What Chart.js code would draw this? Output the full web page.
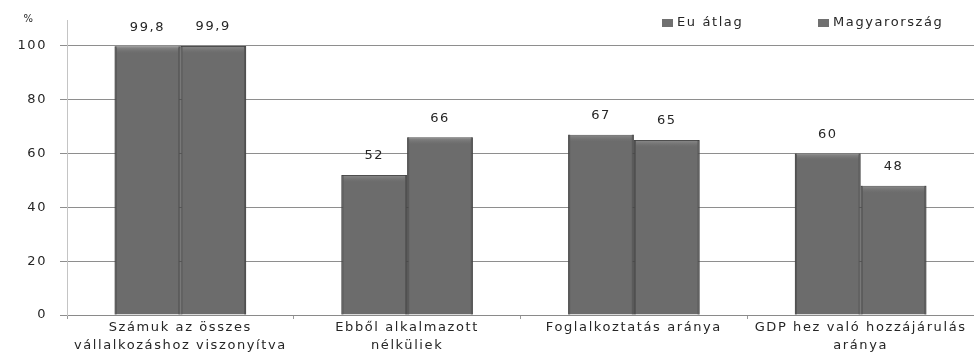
<!DOCTYPE html>
<html>
<head>
<meta charset="utf-8">
<script src="https://cdn.jsdelivr.net/npm/chart.js@4/dist/chart.umd.min.js"></script>
<style>
  html, body { margin: 0; padding: 0; background: #ffffff; }
  #wrap { width: 974px; height: 361px; position: relative; }
</style>
</head>
<body>
<div id="wrap"><canvas id="c"></canvas></div>
<script>
// Kategóriák (többsoros címkék)
const categories = [
  ['Számuk az összes', 'vállalkozáshoz viszonyítva'],
  ['Ebből alkalmazott', 'nélküliek'],
  ['Foglalkoztatás aránya'],
  ['GDP hez való hozzájárulás', 'aránya']
];
const seriesNames = ['Eu átlag', 'Magyarország'];
const euValues = [99.8, 52, 67, 60];
const huValues = [99.9, 66, 65, 48];
const yTicks = [0, 20, 40, 60, 80, 100];
const unitLabel = '%';

const FONT = 'DejaVu Sans';
const TEXT = '#262626';
const SPACING = '1.6px';

function setSpacing(chart) { chart.ctx.letterSpacing = SPACING; }

// letter spacing for the wide, airy label look
const spacingPlugin = {
  id: 'spacing',
  beforeUpdate: setSpacing,
  beforeLayout: setSpacing,
  beforeDraw: setSpacing,
  beforeDatasetsDraw: setSpacing
};

// lighter bevel strip along the top of each bar
const bevelPlugin = {
  id: 'bevel',
  afterDatasetsDraw(chart) {
    const ctx = chart.ctx;
    ctx.save();
    chart.data.datasets.forEach((ds, i) => {
      chart.getDatasetMeta(i).data.forEach(bar => {
        const left = bar.x - bar.width / 2, w = bar.width;
        const g = ctx.createLinearGradient(0, bar.y, 0, bar.y + 7);
        g.addColorStop(0, 'rgba(150,150,150,0.8)');
        g.addColorStop(1, 'rgba(120,120,120,0)');
        ctx.fillStyle = g;
        ctx.fillRect(left + 2, bar.y + 1, w - 4, 7);
        // darker side edges
        ctx.fillStyle = 'rgba(60,60,60,0.5)';
        ctx.fillRect(left, bar.y, 2, bar.base - bar.y);
        ctx.fillRect(left + w - 2, bar.y, 2, bar.base - bar.y);
      });
    });
    ctx.restore();
  }
};

// value labels above bars
const valueLabelPlugin = {
  id: 'valueLabels',
  afterDatasetsDraw(chart) {
    const ctx = chart.ctx;
    ctx.save();
    ctx.letterSpacing = SPACING;
    ctx.font = '13px "' + FONT + '"';
    ctx.fillStyle = TEXT;
    ctx.textAlign = 'center';
    ctx.textBaseline = 'middle';
    chart.data.datasets.forEach((ds, i) => {
      chart.getDatasetMeta(i).data.forEach((bar, j) => {
        const txt = String(ds.data[j]).replace('.', ',');
        ctx.fillText(txt, bar.x, bar.y - 19);
      });
    });
    ctx.restore();
  }
};

// legend in the top right corner plus the unit label
const legendPlugin = {
  id: 'cornerLegend',
  afterDraw(chart) {
    const ctx = chart.ctx;
    ctx.save();
    ctx.letterSpacing = SPACING;
    ctx.font = '13px "' + FONT + '"';
    ctx.textBaseline = 'middle';
    const xs = [662, 818];
    chart.data.datasets.forEach((ds, i) => {
      ctx.fillStyle = '#707070';
      ctx.fillRect(xs[i], 19, 11, 8);
      ctx.fillStyle = TEXT;
      ctx.textAlign = 'left';
      ctx.fillText(ds.label, xs[i] + 15, 23);
    });
    ctx.font = '10px "' + FONT + '"';
    ctx.textAlign = 'center';
    ctx.fillText(unitLabel, 29, 19);
    ctx.restore();
  }
};

const barStyle = {
  backgroundColor: '#6c6c6c',
  borderColor: '#4e4e4e',
  borderWidth: 1,
  barPercentage: 1.0,
  categoryPercentage: 0.58
};

new Chart(document.getElementById('c'), {
  type: 'bar',
  data: {
    labels: categories,
    datasets: [
      Object.assign({ label: seriesNames[0], data: euValues }, barStyle),
      Object.assign({ label: seriesNames[1], data: huValues }, barStyle)
    ]
  },
  options: {
    responsive: true,
    maintainAspectRatio: false,
    animation: false,
    layout: { padding: { top: 20, right: 0, left: 0, bottom: 0 } },
    plugins: {
      legend: { display: false },
      tooltip: { enabled: false }
    },
    scales: {
      x: {
        grid: {
          offset: true,
          drawOnChartArea: false,
          drawTicks: true,
          tickLength: 4,
          color: '#9a9a9a'
        },
        border: { color: '#8a8a8a' },
        ticks: {
          color: TEXT,
          font: { family: FONT, size: 13, lineHeight: 1.38 },
          padding: 0,
          maxRotation: 0,
          autoSkip: false
        },
        afterFit(scale) { scale.height = 46; }
      },
      y: {
        min: 0,
        max: 109.3,
        afterBuildTicks(scale) {
          scale.ticks = yTicks.map(v => ({ value: v }));
        },
        grid: {
          color: '#8e8e8e',
          tickLength: 7,
          drawTicks: true
        },
        border: { color: '#c4c4c4' },
        ticks: {
          color: TEXT,
          font: { family: FONT, size: 13 },
          padding: 13
        },
        afterFit(scale) { scale.width = 67; }
      }
    }
  },
  plugins: [spacingPlugin, bevelPlugin, valueLabelPlugin, legendPlugin]
});
</script>
</body>
</html>
